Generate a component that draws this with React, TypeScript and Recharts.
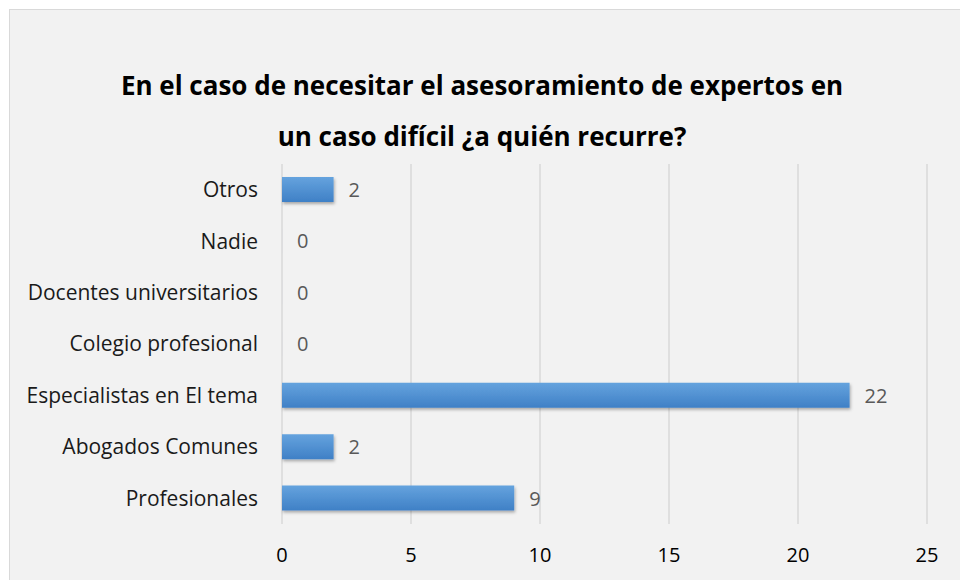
import React from 'react';
import { BarChart, Bar, XAxis, YAxis, CartesianGrid, LabelList } from 'recharts';

const categories = [
    'Otros',
    'Nadie',
    'Docentes universitarios',
    'Colegio profesional',
    'Especialistas en El tema',
    'Abogados Comunes',
    'Profesionales'
];
const values = [2, 0, 0, 0, 22, 2, 9];
const xTicks = [0, 5, 10, 15, 20, 25];
const titleLines = [
    'En el caso de necesitar el asesoramiento de expertos en',
    'un caso difícil ¿a quién recurre?'
];

const data = categories.map((name, i) => ({ name, value: values[i] }));

const FONT = "'Open Sans', sans-serif";

// value label drawn for every bar, including the zero ones
const ValueLabel = (props: any) => {
    const { x, y, width, height, value } = props;
    return (
        <text
            x={Number(x) + Number(width || 0) + 15}
            y={Number(y) + Number(height) / 2}
            dominantBaseline="central"
            fill="#595959"
            fontSize={20}
            fontFamily={FONT}
        >
            {value}
        </text>
    );
};

const App: React.FC = () => {
    return (
        <div style={{ position: 'absolute', left: 0, top: 0, width: 960, height: 580, background: '#fff', overflow: 'hidden', fontFamily: FONT }}>
            <div
                style={{
                    position: 'absolute',
                    left: 9,
                    top: 9,
                    width: 960,
                    height: 580,
                    background: '#f2f2f2',
                    border: '1px solid #d9d9d9',
                    boxSizing: 'border-box'
                }}
            />
            <div style={{ position: 'absolute', left: 0, top: 0, width: 960, height: 580 }}>
                <BarChart
                    width={960}
                    height={580}
                    data={data}
                    layout="vertical"
                    margin={{ top: 164, right: 33, bottom: 26, left: 0 }}
                    barSize={25}
                >
                    <defs>
                        <linearGradient id="barFill" x1="0" y1="0" x2="0" y2="1">
                            <stop offset="0%" stopColor="#65a3de" />
                            <stop offset="100%" stopColor="#3f80c6" />
                        </linearGradient>
                        <filter id="barShadow" x="-5%" y="-30%" width="115%" height="190%">
                            <feDropShadow dx="1" dy="2" stdDeviation="1.5" floodColor="#000" floodOpacity="0.3" />
                        </filter>
                    </defs>
                    <CartesianGrid horizontal={false} stroke="#d9d9d9" strokeWidth={1.5} />
                    <XAxis
                        type="number"
                        domain={[0, 25]}
                        ticks={xTicks}
                        axisLine={false}
                        tickLine={false}
                        tickSize={0}
                        tickMargin={24}
                        height={30}
                        tick={{ fill: '#000', fontSize: 20, fontFamily: FONT }}
                    />
                    <YAxis
                        type="category"
                        dataKey="name"
                        width={282}
                        axisLine={false}
                        tickLine={false}
                        tickSize={0}
                        tickMargin={24}
                        tick={{ fill: '#1a1a1a', fontSize: 21, fontFamily: FONT }}
                    />
                    <Bar
                        dataKey="value"
                        fill="url(#barFill)"
                        filter="url(#barShadow)"
                        minPointSize={0.01}
                        isAnimationActive={false}
                    >
                        <LabelList dataKey="value" content={ValueLabel} />
                    </Bar>
                </BarChart>
            </div>
            {titleLines.map((line, i) => (
                <div
                    key={i}
                    style={{
                        position: 'absolute',
                        left: 0,
                        width: 964,
                        top: 70 + i * 51,
                        textAlign: 'center',
                        fontWeight: 700,
                        fontSize: 26,
                        lineHeight: '30px',
                        color: '#000'
                    }}
                >
                    {line}
                </div>
            ))}
        </div>
    );
};

export default App;
